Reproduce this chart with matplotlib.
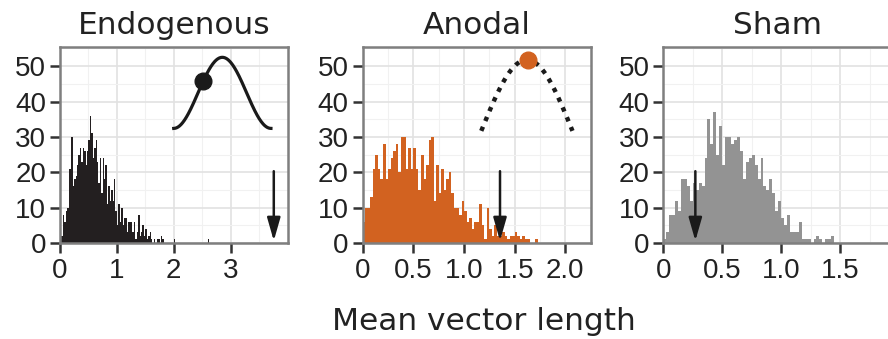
import numpy as np
import matplotlib
matplotlib.use("Agg")
import matplotlib.pyplot as plt

# histogram counts, bins of 0.025 starting at 0
binwidth = 0.025
endo_counts = [0, 2, 8, 6, 9, 10, 21, 21, 30, 16, 18, 19, 22, 25, 27, 23, 27, 26, 22, 26,
               29, 36, 31, 24, 27, 29, 23, 17, 24, 14, 24, 18, 22, 11, 16, 12, 15, 12, 18, 9,
               5, 11, 6, 10, 5, 7, 7, 3, 6, 6, 6, 3, 6, 1, 3, 8, 2, 3, 5, 2,
               4, 1, 2, 3, 1, 0, 1, 0, 1, 1, 0, 2, 1]
endo_outlier_x = [2.0, 2.6]
endo_outlier_n = [1, 1]
anodal_counts = [6, 10, 10, 13, 21, 25, 21, 18, 28, 18, 21, 24, 26, 28, 20, 30, 30, 21, 27, 21,
                 27, 21, 15, 25, 18, 22, 29, 30, 12, 22, 14, 21, 15, 18, 20, 14, 10, 10, 8, 12,
                 9, 6, 7, 4, 6, 6, 11, 5, 1, 10, 4, 2, 5, 2, 2, 3, 2, 1, 2, 2,
                 3, 2, 1, 2, 1, 1, 0, 0, 1]
sham_counts = [1, 3, 8, 8, 12, 9, 18, 18, 16, 12, 17, 15, 17, 16, 24, 35, 28, 37, 25, 33,
               22, 30, 30, 28, 29, 30, 26, 18, 23, 24, 25, 22, 18, 24, 16, 15, 18, 14, 9, 12,
               7, 5, 8, 3, 3, 3, 6, 1, 1, 1, 0, 1, 2, 1, 0, 1, 1, 2]

titles = ["Endogenous", "Anodal", "Sham"]
colors = ["#231f20", "#d26220", "#939393"]
observed = [3.76, 1.355, 0.272]
xlims = [4.01, 2.22, 1.935]
xticks = [[0, 1, 2, 3], [0, 0.5, 1.0, 1.5, 2.0], [0, 0.5, 1.0, 1.5]]
xticklabels = [["0", "1", "2", "3"], ["0", "0.5", "1.0", "1.5", "2.0"], ["0", "0.5", "1.0", "1.5"]]
yticks = [0, 10, 20, 30, 40, 50]

# little phase schematics (x range, y range, dot position)
endo_wave_x = [2.0, 3.71]
endo_wave_y = [32.4, 52.5]
endo_dot = [2.52, 45.9]
anodal_wave_x = [1.17, 2.07]
anodal_wave_y = [31.7, 51.8]
anodal_dot = [1.63, 51.6]

W, H = 888, 339
fig = plt.figure(figsize=(W / 100, H / 100), dpi=100)
lefts = [60, 362.7, 663.3]
bottom, top = 243, 46.7
width = 228

all_counts = [endo_counts, anodal_counts, sham_counts]
axes = []
for i in range(3):
    ax = fig.add_axes([lefts[i] / W, (H - bottom) / H, width / W, (bottom - top) / H])
    axes.append(ax)
    counts = all_counts[i]
    edges = np.arange(len(counts) + 1) * binwidth
    ax.stairs(counts, edges, fill=True, color=colors[i], linewidth=0, zorder=2)
    ax.set_xlim(0, xlims[i])
    ax.set_ylim(0, 55.5)
    ax.set_xticks(xticks[i])
    ax.set_xticklabels(xticklabels[i])
    ax.set_yticks(yticks)
    step = xticks[i][1] - xticks[i][0]
    minor_x = [v + step / 2 for v in xticks[i]]
    ax.set_xticks(minor_x, minor=True)
    ax.set_yticks([5, 15, 25, 35, 45, 55], minor=True)
    ax.grid(which="major", color="#e2e2e2", linewidth=1.2, zorder=0)
    ax.grid(which="minor", color="#f1f1f1", linewidth=0.8, zorder=0)
    ax.set_axisbelow(True)
    ax.tick_params(which="major", length=7, width=1.8, color="#333333", pad=3,
                   labelsize=20, labelcolor="#222222", labelfontfamily="Liberation Sans")
    ax.tick_params(axis="x", which="major", pad=4)
    ax.tick_params(which="minor", length=0)
    for s in ax.spines.values():
        s.set_color("#7f7f7f")
        s.set_linewidth(1.8)
        s.set_zorder(5)
    ax.set_title(titles[i], fontsize=22.5, color="#222222", pad=9)
    # observed value arrow
    ax.annotate("", xy=(observed[i], 0.6), xytext=(observed[i], 20.3),
                arrowprops=dict(arrowstyle="-|>,head_length=0.7,head_width=0.2",
                                mutation_scale=20, color="#1a1a1a", lw=1.8,
                                shrinkA=0, shrinkB=0), zorder=6)

# outliers in endogenous panel
axes[0].bar(endo_outlier_x, endo_outlier_n, width=binwidth, align="edge",
            color=colors[0], linewidth=0, zorder=2)

# schematic waves
t = np.linspace(0, 2 * np.pi, 200)
wx = endo_wave_x[0] + (endo_wave_x[1] - endo_wave_x[0]) * t / (2 * np.pi)
wy = endo_wave_y[0] + (endo_wave_y[1] - endo_wave_y[0]) * (1 - np.cos(t)) / 2
axes[0].plot(wx, wy, color="#1a1a1a", lw=2.3, zorder=6, clip_on=False)
axes[0].plot(*endo_dot, "o", color="#1a1a1a", ms=12, zorder=7)

p = np.linspace(-np.pi / 2, np.pi / 2, 200)
ax_ = anodal_wave_x[0] + (anodal_wave_x[1] - anodal_wave_x[0]) * (p + np.pi / 2) / np.pi
ay_ = anodal_wave_y[0] + (anodal_wave_y[1] - anodal_wave_y[0]) * np.cos(p)
axes[1].plot(ax_, ay_, color="#1a1a1a", lw=3.2, ls=(0, (1.0, 1.4)),
             dash_capstyle="butt", zorder=6)
axes[1].plot(*anodal_dot, "o", color=colors[1], ms=12, zorder=7)

fig.text(484 / W, (H - 330) / H, "Mean vector length", ha="center", va="baseline",
         fontsize=22.5, color="#222222")

fig.savefig("out.png", dpi=100)
